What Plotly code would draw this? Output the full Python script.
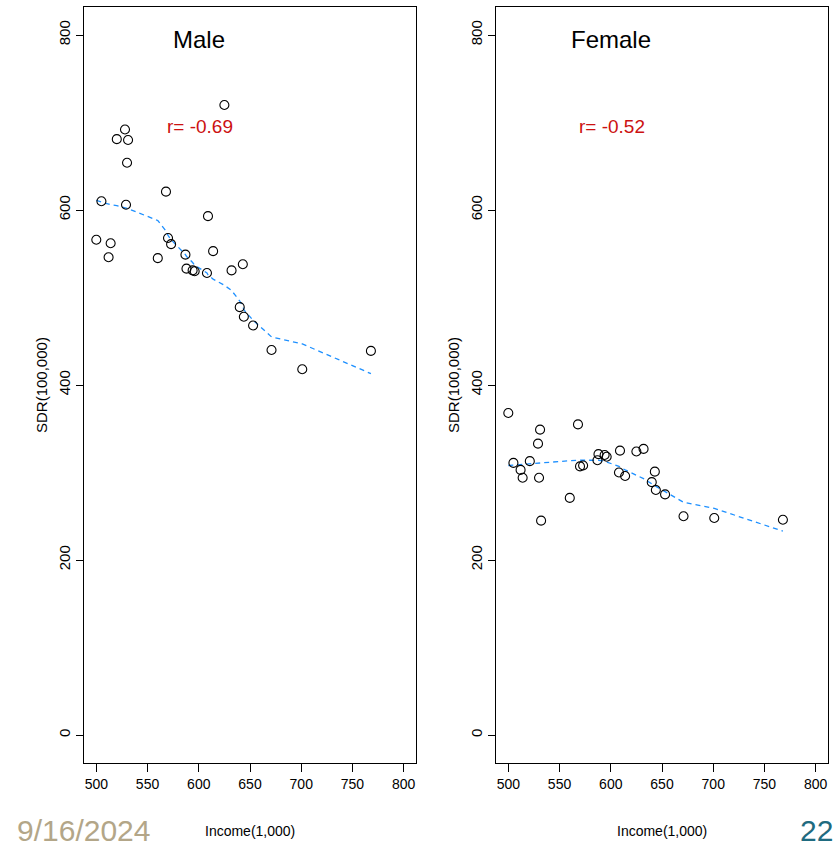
import plotly.graph_objects as go

# ---- data ----
male_income = [500, 505, 512, 514, 520, 528, 531, 530, 529, 560, 568, 570, 573, 587, 588,
               594, 596, 608, 609, 614, 625, 632, 640, 643, 644, 653, 671, 701, 768]
male_sdr = [566, 610, 546, 562, 681, 692, 680, 654, 606, 545, 621, 568, 561, 549, 533,
            531, 530, 528, 593, 553, 720, 531, 489, 538, 478, 468, 440, 418, 439]

female_income = [500, 505, 512, 514, 521, 529, 531, 530, 532, 560, 568, 570, 573, 587, 588,
                 594, 596, 608, 609, 614, 625, 632, 640, 643, 644, 653, 671, 701, 768]
female_sdr = [368, 311, 303, 294, 313, 333, 349, 294, 245, 271, 355, 307, 308, 314, 321,
              320, 318, 300, 325, 296, 324, 327, 289, 301, 280, 275, 250, 248, 246]

trend_income = [500, 505, 512, 514, 520, 528, 530, 560, 568, 570, 573, 587, 588, 594, 596,
                608, 609, 614, 625, 632, 640, 643, 644, 653, 671, 701, 768]
male_trend = [611, 609, 607, 606, 605, 603, 602, 588, 576, 571, 566, 549, 547, 540, 537,
              528, 526, 521, 514, 508, 496, 490, 486, 474, 455, 447, 413]
female_trend = [308, 308.5, 309, 309.5, 310, 310.5, 311, 313.5, 314, 314, 314, 314, 314, 313, 312,
                307, 306, 303, 297, 293, 287, 285, 284, 278, 266, 259, 233]

panel_titles = ["Male", "Female"]
r_labels = ["r= -0.69", "r= -0.52"]
x_ticks = [500, 550, 600, 650, 700, 750, 800]
y_ticks = [0, 200, 400, 600, 800]

W, H = 839, 851
NARROW = "Liberation Sans Narrow, Arial Narrow, Liberation Sans, Arial, sans-serif"
REG = "Liberation Sans, Arial, sans-serif"

fig = go.Figure()
panels = [
    (male_income, male_sdr, male_trend, "x", "y"),
    (female_income, female_sdr, female_trend, "x2", "y2"),
]
for xs, ys, tr, xa, ya in panels:
    fig.add_trace(go.Scatter(x=trend_income, y=tr, mode="lines", xaxis=xa, yaxis=ya,
                             line=dict(color="#1E90FF", width=1.3, dash="5px,4px"),
                             showlegend=False, hoverinfo="skip"))
    fig.add_trace(go.Scatter(x=xs, y=ys, mode="markers", xaxis=xa, yaxis=ya,
                             marker=dict(symbol="circle-open", size=9,
                                         line=dict(color="black", width=1.1), color="black"),
                             showlegend=False))

box_left = [84, 496]
box_right = [416, 828]
top_px, bot_px = 7, 763

axis_common = dict(showline=True, linecolor="black", linewidth=1, mirror=True,
                   showgrid=False, zeroline=False, ticks="outside", tickcolor="black")

ydom = [1 - bot_px / H, 1 - top_px / H]
for i in range(2):
    xname = "xaxis" if i == 0 else "xaxis2"
    yname = "yaxis" if i == 0 else "yaxis2"
    anchor_y = "y" if i == 0 else "y2"
    anchor_x = "x" if i == 0 else "x2"
    fig.layout[xname] = dict(domain=[box_left[i] / W, box_right[i] / W], range=[488, 812],
                             anchor=anchor_y, tickvals=x_ticks, ticklen=8,
                             tickfont=dict(family=NARROW, size=14, color="black"),
                             **axis_common)
    fig.layout[yname] = dict(domain=ydom, range=[-32, 832], anchor=anchor_x,
                             tickvals=y_ticks, ticklen=7, tickangle=-90,
                             tickfont=dict(family=REG, size=15, color="black"),
                             **axis_common)

annotations = []
for i in range(2):
    xr = "x" if i == 0 else "x2"
    yr = "y" if i == 0 else "y2"
    annotations.append(dict(text=panel_titles[i], x=600, y=795, xref=xr, yref=yr,
                            showarrow=False, font=dict(family=NARROW, size=24, color="black")))
    annotations.append(dict(text=r_labels[i], x=601, y=695, xref=xr, yref=yr,
                            showarrow=False, font=dict(family=NARROW, size=19, color="#CC1111")))
    cx = (box_left[i] + box_right[i]) / 2
    annotations.append(dict(text="Income(1,000)", x=cx / W, y=1 - 831 / H, xref="paper", yref="paper",
                            xanchor="center", yanchor="middle",
                            showarrow=False, font=dict(family=NARROW, size=14, color="black")))
    annotations.append(dict(text="SDR(100,000)", x=(box_left[i] - 43) / W, y=1 - 385 / H,
                            xref="paper", yref="paper", textangle=-90, showarrow=False,
                            xanchor="center", yanchor="middle",
                            font=dict(family=REG, size=15, color="black")))

annotations.append(dict(text="9/16/2024", x=15 / W, y=1 - 830 / H, xref="paper", yref="paper",
                        xanchor="left", yanchor="middle", showarrow=False,
                        font=dict(family=REG, size=30, color="#B3A688")))
annotations.append(dict(text="22", x=798 / W, y=1 - 830 / H, xref="paper", yref="paper",
                        xanchor="left", yanchor="middle", showarrow=False,
                        font=dict(family=REG, size=30, color="#1F6B80")))

fig.update_layout(width=W, height=H, margin=dict(l=0, r=0, t=0, b=0),
                  paper_bgcolor="white", plot_bgcolor="white",
                  annotations=annotations, showlegend=False)

fig.write_html("out.html")
